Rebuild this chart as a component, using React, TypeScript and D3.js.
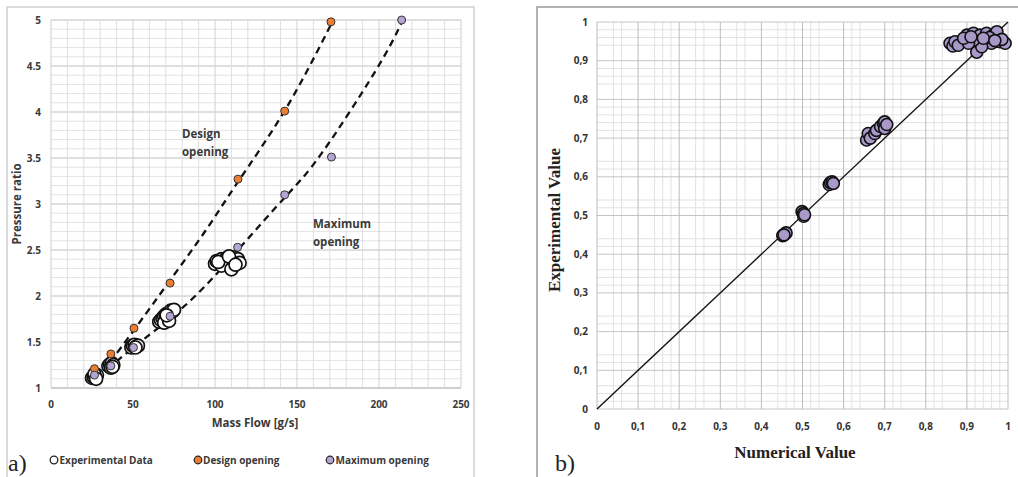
import React from "react";
import * as d3 from "d3";

// ---------- Panel a) data ----------
const massTicks = [0, 50, 100, 150, 200, 250];
const prTicks = [1, 1.5, 2, 2.5, 3, 3.5, 4, 4.5, 5];

const expMass = [25, 26, 27, 28, 26.5, 27.5, 35, 36, 37, 38, 36.5, 37.5, 49, 50, 51, 52, 53, 51.5, 66, 67, 68, 69, 70, 71, 72, 73, 74, 75, 69, 72, 70.5, 100, 101, 103, 104, 106, 107, 108, 109, 110, 111, 112, 113, 114, 115, 104, 110, 102, 108.5, 112.5];
const expPR = [1.11, 1.12, 1.13, 1.14, 1.15, 1.1, 1.24, 1.26, 1.27, 1.25, 1.22, 1.23, 1.44, 1.46, 1.47, 1.45, 1.46, 1.44, 1.72, 1.74, 1.76, 1.78, 1.8, 1.77, 1.82, 1.84, 1.83, 1.85, 1.71, 1.73, 1.79, 2.35, 2.38, 2.36, 2.4, 2.37, 2.41, 2.35, 2.39, 2.32, 2.38, 2.42, 2.36, 2.4, 2.36, 2.33, 2.29, 2.37, 2.43, 2.34];

const designMass = [26.5, 36.5, 50.6, 72.6, 114, 142.5, 170.7];
const designPR = [1.21, 1.37, 1.65, 2.14, 3.27, 4.01, 4.98];

const maxMass = [26.5, 36.5, 50.3, 72.6, 113.8, 142.5, 171, 213.8];
const maxPR = [1.14, 1.24, 1.44, 1.78, 2.53, 3.1, 3.51, 5.0];

const designTrendMass = [36, 51, 73, 95, 114, 143, 171];
const designTrendPR = [1.28, 1.64, 2.18, 2.73, 3.24, 4.03, 4.96];
const maxTrendMass = [40, 58, 85, 114, 143, 165, 198, 214];
const maxTrendPR = [1.29, 1.55, 1.95, 2.5, 3.08, 3.55, 4.45, 4.98];

// ---------- Panel b) data ----------
const valTicks = [0, 0.1, 0.2, 0.3, 0.4, 0.5, 0.6, 0.7, 0.8, 0.9, 1];
const valTickLabels = ["0", "0,1", "0,2", "0,3", "0,4", "0,5", "0,6", "0,7", "0,8", "0,9", "1"];
const minorX = [0.04, 0.06, 0.14, 0.16, 0.18, 0.24, 0.26, 0.34, 0.36, 0.44, 0.46, 0.48, 0.52, 0.54, 0.62, 0.64, 0.72, 0.74, 0.82, 0.84, 0.92, 0.94, 0.96, 0.98];
const minorY = [0.02, 0.04, 0.06, 0.12, 0.14, 0.22, 0.24, 0.32, 0.34, 0.36, 0.42, 0.44, 0.52, 0.54, 0.62, 0.64, 0.72, 0.74, 0.76, 0.78, 0.84, 0.86, 0.88, 0.94, 0.96, 0.98];

const numVal = [0.452, 0.457, 0.46, 0.455, 0.499, 0.502, 0.503, 0.505, 0.565, 0.568, 0.572, 0.575, 0.656, 0.66, 0.665, 0.676, 0.68, 0.69, 0.697, 0.7, 0.7, 0.705, 0.859, 0.866, 0.871, 0.879, 0.9, 0.916, 0.932, 0.948, 0.964, 0.973, 0.948, 0.96, 0.98, 0.993, 0.924, 0.936, 0.916, 0.904, 0.955, 0.985, 0.94, 0.892, 0.91, 0.968];
const expVal = [0.448, 0.452, 0.455, 0.45, 0.51, 0.505, 0.498, 0.502, 0.58, 0.585, 0.587, 0.583, 0.695, 0.712, 0.7, 0.712, 0.72, 0.73, 0.738, 0.742, 0.725, 0.735, 0.945, 0.938, 0.949, 0.94, 0.966, 0.971, 0.966, 0.971, 0.966, 0.975, 0.949, 0.945, 0.949, 0.945, 0.922, 0.936, 0.953, 0.945, 0.96, 0.955, 0.958, 0.958, 0.962, 0.952];

const lineVals = [0, 1];

const SANS = "'Open Sans', 'DejaVu Sans', sans-serif";
const SERIF = "'Liberation Serif', 'DejaVu Serif', serif";

export default function App() {
  const x1 = d3.scaleLinear().domain([0, 250]).range([51, 461]);
  const y1 = d3.scaleLinear().domain([1, 5]).range([388, 20]);
  const x2 = d3.scaleLinear().domain([0, 1]).range([597, 1008]);
  const y2 = d3.scaleLinear().domain([0, 1]).range([409, 22]);

  const minorMass = d3.range(0, 251, 10);
  const minorPR = d3.range(10, 51, 1).map((v) => v / 10);

  const mk = (xs: number[], ys: number[]) =>
    d3
      .line<[number, number]>()
      .x((d) => x1(d[0]))
      .y((d) => y1(d[1]))
      .curve(d3.curveNatural)(xs.map((m, i) => [m, ys[i]] as [number, number])) || "";

  const designPath = mk(designTrendMass, designTrendPR);
  const maxPath = mk(maxTrendMass, maxTrendPR);

  const orange = "#ed7d31";
  const lav = "#b3a6d4";
  const lavB = "#a899c9";
  const txt = "#3a3a3a";

  return (
    <svg width={1018} height={477} style={{ position: "absolute", left: 0, top: 0, background: "#fff" }}>
      {/* ---------- Panel a ---------- */}
      <rect x={7} y={7} width={467} height={474} fill="#fff" stroke="#d0d0d0" strokeWidth={1.5} />
      {minorPR.map((v) => (
        <line key={"pr" + v} x1={x1(0)} x2={x1(250)} y1={y1(v)} y2={y1(v)} stroke={Math.round(v * 10) % 5 === 0 ? "#bfbfbf" : "#e3e3e3"} strokeWidth={1} />
      ))}
      {minorMass.map((v) => (
        <line key={"m" + v} x1={x1(v)} x2={x1(v)} y1={y1(1)} y2={y1(5)} stroke={v % 50 === 0 ? "#d0d0d0" : "#dedede"} strokeWidth={1} />
      ))}
      <line x1={x1(0)} x2={x1(250)} y1={y1(1)} y2={y1(1)} stroke="#bfbfbf" strokeWidth={1} />
      {prTicks.map((t) => (
        <text key={"yt" + t} x={41} y={y1(t)} dy="0.35em" textAnchor="end" fontFamily={SANS} fontWeight={700} fontSize={10} fill={txt}>
          {t}
        </text>
      ))}
      {massTicks.map((t) => (
        <text key={"xt" + t} x={x1(t)} y={404} dy="0.35em" textAnchor="middle" fontFamily={SANS} fontWeight={700} fontSize={10} fill={txt}>
          {t}
        </text>
      ))}
      <text x={255} y={427} textAnchor="middle" fontFamily={SANS} fontWeight={700} fontSize={11.5} fill={txt}>
        Mass Flow [g/s]
      </text>
      <text transform="translate(21,204) rotate(-90)" textAnchor="middle" fontFamily={SANS} fontWeight={700} fontSize={11.5} fill={txt}>
        Pressure ratio
      </text>

      <path d={designPath} fill="none" stroke="#111" strokeWidth={2.3} strokeDasharray="7,5" />
      <path d={maxPath} fill="none" stroke="#111" strokeWidth={2.3} strokeDasharray="7,5" />

      {expMass.map((m, i) => (
        <circle key={"e" + i} cx={x1(m)} cy={y1(expPR[i])} r={6.5} fill="#fff" stroke="#111" strokeWidth={1.7} />
      ))}
      {designMass.map((m, i) => (
        <circle key={"d" + i} cx={x1(m)} cy={y1(designPR[i])} r={4} fill={orange} stroke="#333" strokeWidth={1} />
      ))}
      {maxMass.map((m, i) => (
        <circle key={"x" + i} cx={x1(m)} cy={y1(maxPR[i])} r={4} fill={lav} stroke="#333" strokeWidth={1} />
      ))}

      <text x={182} y={138} fontFamily={SANS} fontWeight={700} fontSize={11.5} fill={txt}>Design</text>
      <text x={182} y={156} fontFamily={SANS} fontWeight={700} fontSize={11.5} fill={txt}>opening</text>
      <text x={313} y={228} fontFamily={SANS} fontWeight={700} fontSize={11.5} fill={txt}>Maximum</text>
      <text x={313} y={246} fontFamily={SANS} fontWeight={700} fontSize={11.5} fill={txt}>opening</text>

      {/* legend */}
      <circle cx={54} cy={460} r={3.8} fill="#fff" stroke="#222" strokeWidth={1.3} />
      <text x={59.5} y={460} dy="0.35em" fontFamily={SANS} fontWeight={700} fontSize={10} fill={txt}>Experimental Data</text>
      <circle cx={198} cy={460} r={3.8} fill={orange} stroke="#222" strokeWidth={1.2} />
      <text x={203} y={460} dy="0.35em" fontFamily={SANS} fontWeight={700} fontSize={10} fill={txt}>Design opening</text>
      <circle cx={330} cy={460} r={3.8} fill={lav} stroke="#222" strokeWidth={1.2} />
      <text x={335.5} y={460} dy="0.35em" fontFamily={SANS} fontWeight={700} fontSize={10} fill={txt}>Maximum opening</text>
      <text x={8} y={471} fontFamily={SERIF} fontSize={24} fill="#222">a)</text>

      {/* ---------- Panel b ---------- */}
      <rect x={537} y={7} width={490} height={480} fill="#fff" stroke="#9a9a9a" strokeWidth={1.5} />
      {minorY.map((v) => (
        <line key={"my" + v} x1={x2(0)} x2={x2(1)} y1={y2(v)} y2={y2(v)} stroke="#e2e2e2" strokeWidth={1} />
      ))}
      {minorX.map((v) => (
        <line key={"mx" + v} x1={x2(v)} x2={x2(v)} y1={y2(0)} y2={y2(1)} stroke="#e2e2e2" strokeWidth={1} />
      ))}
      {valTicks.map((v) => (
        <line key={"gy" + v} x1={x2(0)} x2={x2(1)} y1={y2(v)} y2={y2(v)} stroke="#c4c4c4" strokeWidth={1} />
      ))}
      {valTicks.map((v) => (
        <line key={"gx" + v} x1={x2(v)} x2={x2(v)} y1={y2(0)} y2={y2(1)} stroke="#bdbdbd" strokeWidth={1} />
      ))}
      {valTicks.map((v, i) => (
        <text key={"yl" + v} x={588} y={y2(v)} dy="0.35em" textAnchor="end" fontFamily={SANS} fontWeight={700} fontSize={10} fill="#333">
          {valTickLabels[i]}
        </text>
      ))}
      {valTicks.map((v, i) => (
        <text key={"xl" + v} x={x2(v)} y={426} dy="0.35em" textAnchor="middle" fontFamily={SANS} fontWeight={700} fontSize={10} fill="#333">
          {valTickLabels[i]}
        </text>
      ))}
      <text x={795} y={458} textAnchor="middle" fontFamily={SERIF} fontWeight={700} fontSize={17} fill="#222">
        Numerical Value
      </text>
      <text transform="translate(560,220) rotate(-90)" textAnchor="middle" fontFamily={SERIF} fontWeight={700} fontSize={17} fill="#222">
        Experimental Value
      </text>
      <line x1={x2(lineVals[0])} y1={y2(lineVals[0])} x2={x2(lineVals[1])} y2={y2(lineVals[1])} stroke="#111" strokeWidth={1.4} />
      {numVal.map((v, i) => (
        <circle key={"p" + i} cx={x2(v)} cy={y2(expVal[i])} r={6} fill={lavB} stroke="#111" strokeWidth={1.6} />
      ))}
      <text x={555} y={471} fontFamily={SERIF} fontSize={24} fill="#222">b)</text>
    </svg>
  );
}
